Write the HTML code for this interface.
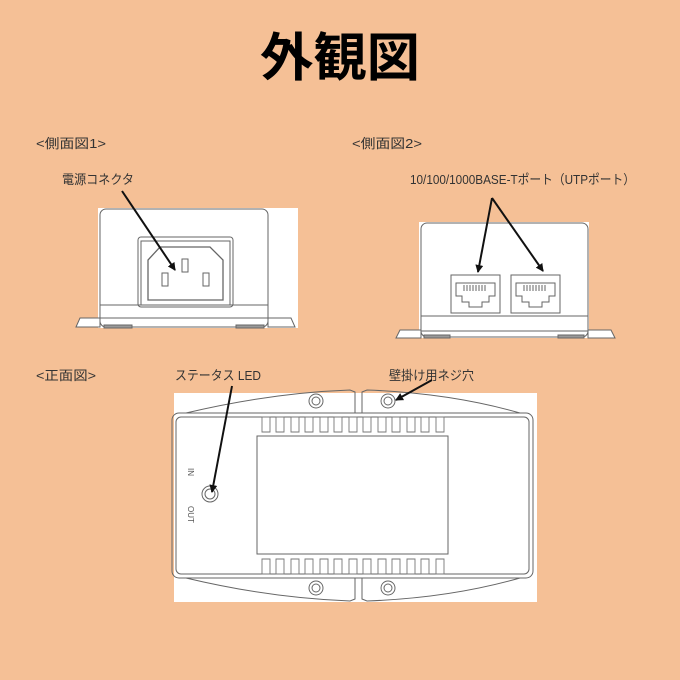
<!DOCTYPE html>
<html><head><meta charset="utf-8"><style>
html,body{margin:0;padding:0;background:#F5C096;}
svg{display:block}
text{font-family:"Liberation Sans","Noto Sans CJK JP",sans-serif;fill:#333}
</style></head><body>
<svg width="680" height="680" viewBox="0 0 680 680" xmlns="http://www.w3.org/2000/svg">
<defs><marker id="ah" markerWidth="8" markerHeight="8" refX="7" refY="4" orient="auto" markerUnits="userSpaceOnUse"><path d="M0,0 L8,4 L0,8 z" fill="#111"/></marker></defs>
<rect width="680" height="680" fill="#F5C096"/>
<text x="340" y="76" font-size="52" font-weight="bold" text-anchor="middle" style="fill:#000" textLength="160" lengthAdjust="spacingAndGlyphs">外観図</text>
<text x="36" y="148" font-size="13" textLength="70" lengthAdjust="spacingAndGlyphs">&lt;側面図1&gt;</text>
<text x="352" y="148" font-size="13" textLength="70" lengthAdjust="spacingAndGlyphs">&lt;側面図2&gt;</text>
<text x="62" y="184" font-size="13" textLength="72" lengthAdjust="spacingAndGlyphs">電源コネクタ</text>
<text x="410" y="184" font-size="13" textLength="225" lengthAdjust="spacingAndGlyphs">10/100/1000BASE-Tポート（UTPポート）</text>
<text x="36" y="380" font-size="13" textLength="60" lengthAdjust="spacingAndGlyphs">&lt;正面図&gt;</text>
<text x="175" y="380" font-size="13" textLength="86" lengthAdjust="spacingAndGlyphs">ステータス LED</text>
<text x="389" y="380" font-size="13" textLength="85" lengthAdjust="spacingAndGlyphs">壁掛け用ネジ穴</text>

<g fill="none" stroke="#666" stroke-width="1">
<rect x="98" y="208" width="200" height="120" fill="#fff" stroke="none"/>
<path d="M76,327 L80,318 L100,318 L100,327 Z M295,327 L291,318 L268,318 L268,327 Z" fill="#fff"/>
<rect x="100" y="209" width="168" height="118" rx="6" fill="#fff"/>
<line x1="100" y1="305" x2="268" y2="305"/>
<line x1="100" y1="318" x2="268" y2="318"/>
<rect x="138" y="237" width="95" height="70" rx="3"/>
<rect x="141" y="241" width="89" height="64"/>
<path d="M160,247 L210,247 L223,260 L223,300 L148,300 L148,260 Z" stroke-width="1.3"/>
<rect x="182" y="259" width="6" height="13"/><rect x="162" y="273" width="6" height="13"/><rect x="203" y="273" width="6" height="13"/>
<rect x="104" y="325" width="28" height="3" fill="#999"/><rect x="236" y="325" width="28" height="3" fill="#999"/>

<rect x="419" y="222" width="170" height="116" fill="#fff" stroke="none"/>
<path d="M396,338 L400,330 L421,330 L421,338 Z M615,338 L611,330 L588,330 L588,338 Z" fill="#fff"/>
<rect x="421" y="223" width="167" height="114" rx="6" fill="#fff"/>
<line x1="421" y1="316" x2="588" y2="316"/>
<line x1="421" y1="331" x2="588" y2="331"/>
<rect x="451" y="275" width="49" height="38"/>
<rect x="511" y="275" width="49" height="38"/>
<path d="M456,283 L495,283 L495,296 L489,296 L489,302 L482,302 L482,307 L469,307 L469,302 L462,302 L462,296 L456,296 Z"/>
<path d="M516,283 L555,283 L555,296 L549,296 L549,302 L542,302 L542,307 L529,307 L529,302 L522,302 L522,296 L516,296 Z"/>
<path d="M464,285 v6 M467,285 v6 M470,285 v6 M473,285 v6 M476,285 v6 M479,285 v6 M482,285 v6 M485,285 v6 M524,285 v6 M527,285 v6 M530,285 v6 M533,285 v6 M536,285 v6 M539,285 v6 M542,285 v6 M545,285 v6"/>
<rect x="424" y="335" width="26" height="3" fill="#999"/><rect x="558" y="335" width="26" height="3" fill="#999"/>

<rect x="174" y="393" width="363" height="209" fill="#fff" stroke="none"/>
<path d="M186,413 Q270,393 350,390 L355,392 L355,413 M362,413 L362,392 L367,390 Q450,393 520,413"/>
<path d="M186,578 Q270,598 350,601 L355,599 L355,578 M362,578 L362,599 L367,601 Q450,598 520,578"/>
<rect x="172" y="413" width="361" height="165" rx="7"/>
<rect x="176" y="417" width="353" height="157" rx="5"/>
<rect x="257" y="436" width="191" height="118"/>
<circle cx="316" cy="401" r="7"/><circle cx="316" cy="401" r="4"/>
<circle cx="388" cy="401" r="7"/><circle cx="388" cy="401" r="4"/>
<circle cx="316" cy="588" r="7"/><circle cx="316" cy="588" r="4"/>
<circle cx="388" cy="588" r="7"/><circle cx="388" cy="588" r="4"/>
<circle cx="210" cy="494" r="8"/><circle cx="210" cy="494" r="5"/>
</g>
<g fill="none" stroke="#777" stroke-width="0.9">
<path id="fins" d="M262,417 h8 v15 h-8 z M276,417 h8 v15 h-8 z M291,417 h8 v15 h-8 z M305,417 h8 v15 h-8 z M320,417 h8 v15 h-8 z M334,417 h8 v15 h-8 z M349,417 h8 v15 h-8 z M363,417 h8 v15 h-8 z M378,417 h8 v15 h-8 z M392,417 h8 v15 h-8 z M407,417 h8 v15 h-8 z M421,417 h8 v15 h-8 z M436,417 h8 v15 h-8 z"/>
<use href="#fins" y="142"/>
</g>
<text x="188" y="468" font-size="8" transform="rotate(90 188 468)" style="fill:#555">IN</text>
<text x="188" y="506" font-size="8" transform="rotate(90 188 506)" style="fill:#555">OUT</text>

<g stroke="#111" stroke-width="2" fill="none">
<line x1="122" y1="191" x2="175" y2="270" marker-end="url(#ah)"/>
<line x1="492" y1="198" x2="478" y2="272" marker-end="url(#ah)"/>
<line x1="492" y1="198" x2="543" y2="271" marker-end="url(#ah)"/>
<line x1="232" y1="386" x2="212" y2="492" marker-end="url(#ah)"/>
<line x1="432" y1="380" x2="396" y2="400" marker-end="url(#ah)"/>
</g>
</svg>
</body></html>
